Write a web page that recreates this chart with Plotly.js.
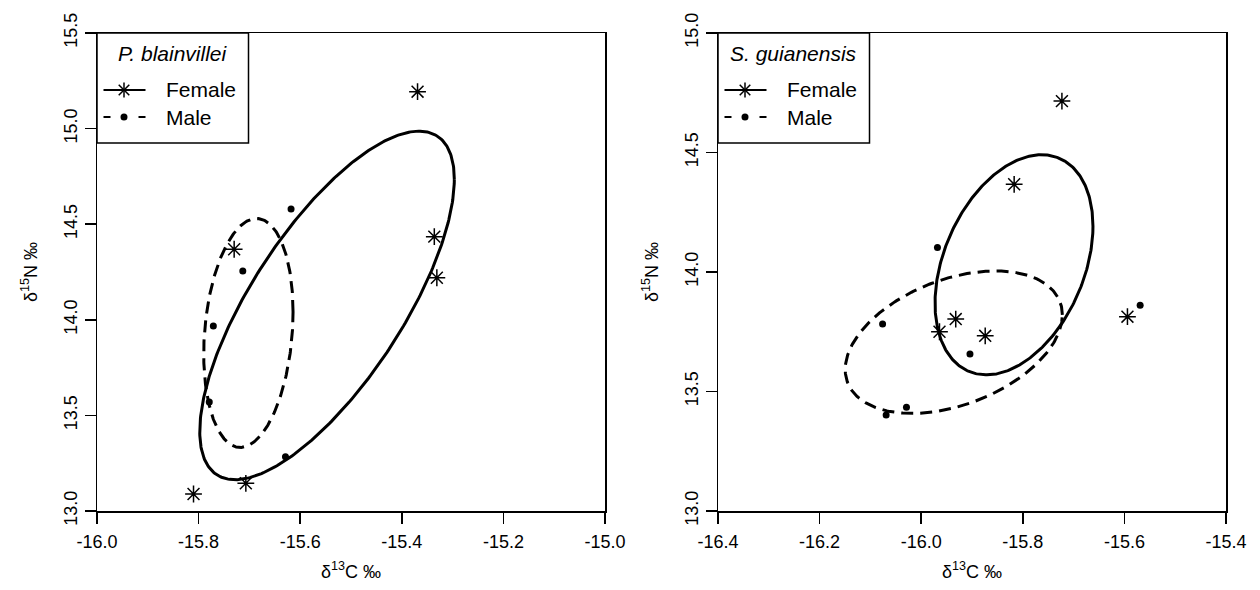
<!DOCTYPE html>
<html>
<head>
<meta charset="utf-8">
<script src="https://cdn.plot.ly/plotly-3.0.1.min.js"></script>
<style>html,body{margin:0;padding:0;background:#fff;}#chart{width:1260px;height:590px;}</style>
</head>
<body>
<div id="chart"></div>
<script>
// ---- data ----
// P. blainvillei
const pbFemaleC = [-15.369, -15.730, -15.336, -15.331, -15.707, -15.810];
const pbFemaleN = [15.193, 14.369, 14.435, 14.220, 13.145, 13.089];
const pbMaleC   = [-15.618, -15.713, -15.771, -15.779, -15.629];
const pbMaleN   = [14.579, 14.255, 13.968, 13.570, 13.284];
// S. guianensis
const sgFemaleC = [-15.817, -15.932, -15.964, -15.874, -15.594, -15.723];
const sgFemaleN = [14.367, 13.803, 13.750, 13.733, 13.813, 14.715];
const sgMaleC   = [-15.968, -15.904, -16.076, -16.029, -16.069, -15.569];
const sgMaleN   = [14.102, 13.657, 13.782, 13.434, 13.402, 13.861];

// tick labels
const pbXTicks = [-16.0, -15.8, -15.6, -15.4, -15.2, -15.0];
const pbXText  = ['-16.0', '-15.8', '-15.6', '-15.4', '-15.2', '-15.0'];
const pbYTicks = [13.0, 13.5, 14.0, 14.5, 15.0, 15.5];
const pbYText  = ['13.0', '13.5', '14.0', '14.5', '15.0', '15.5'];
const sgXTicks = [-16.4, -16.2, -16.0, -15.8, -15.6, -15.4];
const sgXText  = ['-16.4', '-16.2', '-16.0', '-15.8', '-15.6', '-15.4'];
const sgYTicks = [13.0, 13.5, 14.0, 14.5, 15.0];
const sgYText  = ['13.0', '13.5', '14.0', '14.5', '15.0'];

const legendTitles = ['P. blainvillei', 'S. guianensis'];
const groupNames = ['Female', 'Male'];

// ---- small-sample corrected standard ellipse (SEAc) from the data ----
function seac(xs, ys) {
  const n = xs.length;
  const mx = xs.reduce((a, b) => a + b, 0) / n;
  const my = ys.reduce((a, b) => a + b, 0) / n;
  let sxx = 0, syy = 0, sxy = 0;
  for (let i = 0; i < n; i++) {
    sxx += (xs[i] - mx) ** 2;
    syy += (ys[i] - my) ** 2;
    sxy += (xs[i] - mx) * (ys[i] - my);
  }
  const k = 1 / (n - 2); // covariance * (n-1)/(n-2)
  sxx *= k; syy *= k; sxy *= k;
  const a = Math.sqrt(sxx), b = sxy / a, c = Math.sqrt(syy - b * b);
  const ex = [], ey = [];
  for (let i = 0; i <= 360; i++) {
    const t = i * Math.PI / 180;
    ex.push(mx + a * Math.cos(t));
    ey.push(my + b * Math.cos(t) + c * Math.sin(t));
  }
  return {x: ex, y: ey};
}

const FONT = 'Liberation Sans, Arial, sans-serif';
const starMarker = {symbol: 'asterisk-open', size: 14, color: 'black', line: {color: 'black', width: 1.5}};
const dotMarker = {symbol: 'circle', size: 7, color: 'black', line: {width: 0}};
const dashPat = '12px,7px';

function panel(fx, fy, mx_, my_, xa, ya) {
  const ef = seac(fx, fy), em = seac(mx_, my_);
  return [
    {type: 'scatter', mode: 'lines', x: ef.x, y: ef.y, xaxis: xa, yaxis: ya,
     line: {color: 'black', width: 3}, hoverinfo: 'skip'},
    {type: 'scatter', mode: 'lines', x: em.x, y: em.y, xaxis: xa, yaxis: ya,
     line: {color: 'black', width: 3, dash: dashPat}, hoverinfo: 'skip'},
    {type: 'scatter', mode: 'markers', x: fx, y: fy, xaxis: xa, yaxis: ya,
     name: groupNames[0], marker: starMarker},
    {type: 'scatter', mode: 'markers', x: mx_, y: my_, xaxis: xa, yaxis: ya,
     name: groupNames[1], marker: dotMarker}
  ];
}

const data = [].concat(
  panel(pbFemaleC, pbFemaleN, pbMaleC, pbMaleN, 'x', 'y'),
  panel(sgFemaleC, sgFemaleN, sgMaleC, sgMaleN, 'x2', 'y2')
);

// ---- page geometry (pixels) ----
const M = {l: 97, r: 34, t: 33, b: 79};
const W = 1260, H = 590;
const plotW = W - M.l - M.r, plotH = H - M.t - M.b;
const px = v => (v - M.l) / plotW;        // pixel x -> paper fraction
const py = v => (H - M.b - v) / plotH;    // pixel y -> paper fraction

function xAxis(range, vals, text, dom, anchor) {
  return {
    domain: dom, anchor: anchor, range: range, tickvals: vals, ticktext: text,
    showline: true, mirror: true, linecolor: 'black', linewidth: 1.5,
    ticks: 'outside', ticklen: 11, tickwidth: 1.5, tickcolor: 'black',
    showgrid: false, zeroline: false, ticklabelstandoff: 3,
    tickfont: {family: FONT, size: 18, color: 'black'},
    title: {text: 'δ<sup>13</sup>C ‰', font: {family: FONT, size: 18, color: 'black'}, standoff: 14}
  };
}
function yAxis(range, vals, text, anchor) {
  return {
    domain: [0, 1], anchor: anchor, range: range, tickvals: vals, ticktext: text,
    showline: true, mirror: true, linecolor: 'black', linewidth: 1.5,
    ticks: 'outside', ticklen: 11, tickwidth: 1.5, tickcolor: 'black',
    showgrid: false, zeroline: false, tickangle: -90,
    tickfont: {family: FONT, size: 18, color: 'black'},
    title: {text: 'δ<sup>15</sup>N ‰', font: {family: FONT, size: 18, color: 'black'}, standoff: 19}
  };
}

// ---- legends (R style boxes) ----
const shapes = [], annotations = [];
function addLegend(left, title) {
  const top = 33, w = 151.5, h = 110;
  shapes.push({type: 'rect', xref: 'paper', yref: 'paper',
    x0: px(left), x1: px(left + w), y0: py(top), y1: py(top + h),
    line: {color: 'black', width: 1.5}, fillcolor: 'white', layer: 'above'});
  annotations.push({xref: 'paper', yref: 'paper', x: px(left + w / 2), y: py(53),
    xanchor: 'center', yanchor: 'middle', showarrow: false,
    text: '<i>' + title + '</i>', font: {family: FONT, size: 21, color: 'black'}});
  const rows = [90, 117];
  // Female row: solid line + asterisk
  shapes.push({type: 'line', xref: 'paper', yref: 'paper',
    x0: px(left + 6.5), x1: px(left + 48.5), y0: py(rows[0]), y1: py(rows[0]),
    line: {color: 'black', width: 2}});
  const cx = left + 27, r = 7.5, d = r * Math.SQRT1_2;
  [[r, 0], [0, r], [d, d], [d, -d]].forEach(([ux, uy]) => {
    shapes.push({type: 'line', xref: 'paper', yref: 'paper',
      x0: px(cx - ux), x1: px(cx + ux), y0: py(rows[0] - uy), y1: py(rows[0] + uy),
      line: {color: 'black', width: 1.5}});
  });
  // Male row: dashed line + dot
  shapes.push({type: 'line', xref: 'paper', yref: 'paper',
    x0: px(left + 6.5), x1: px(left + 48.5), y0: py(rows[1]), y1: py(rows[1]),
    line: {color: 'black', width: 2, dash: '7px,28px'}});
  shapes.push({type: 'circle', xref: 'paper', yref: 'paper',
    x0: px(cx - 3.5), x1: px(cx + 3.5), y0: py(rows[1] - 3.5), y1: py(rows[1] + 3.5),
    fillcolor: 'black', line: {width: 0}});
  groupNames.forEach((g, i) => {
    annotations.push({xref: 'paper', yref: 'paper', x: px(left + 67), y: py(rows[i]),
      xanchor: 'left', yanchor: 'middle', showarrow: false, text: g,
      font: {family: FONT, size: 21, color: 'black'}});
  });
}
addLegend(97, legendTitles[0]);
addLegend(718, legendTitles[1]);

const layout = {
  width: W, height: H,
  margin: {l: M.l, r: M.r, t: M.t, b: M.b, pad: 0},
  paper_bgcolor: 'white', plot_bgcolor: 'white',
  font: {family: FONT, color: 'black'},
  showlegend: false,
  xaxis: xAxis([-16, -15], pbXTicks, pbXText, [0, 508 / plotW], 'y'),
  yaxis: yAxis([13, 15.5], pbYTicks, pbYText, 'x'),
  xaxis2: xAxis([-16.4, -15.4], sgXTicks, sgXText, [(718 - M.l) / plotW, 1], 'y2'),
  yaxis2: yAxis([13, 15], sgYTicks, sgYText, 'x2'),
  shapes: shapes,
  annotations: annotations
};

Plotly.newPlot('chart', data, layout, {displayModeBar: false, staticPlot: true});
</script>
</body>
</html>
